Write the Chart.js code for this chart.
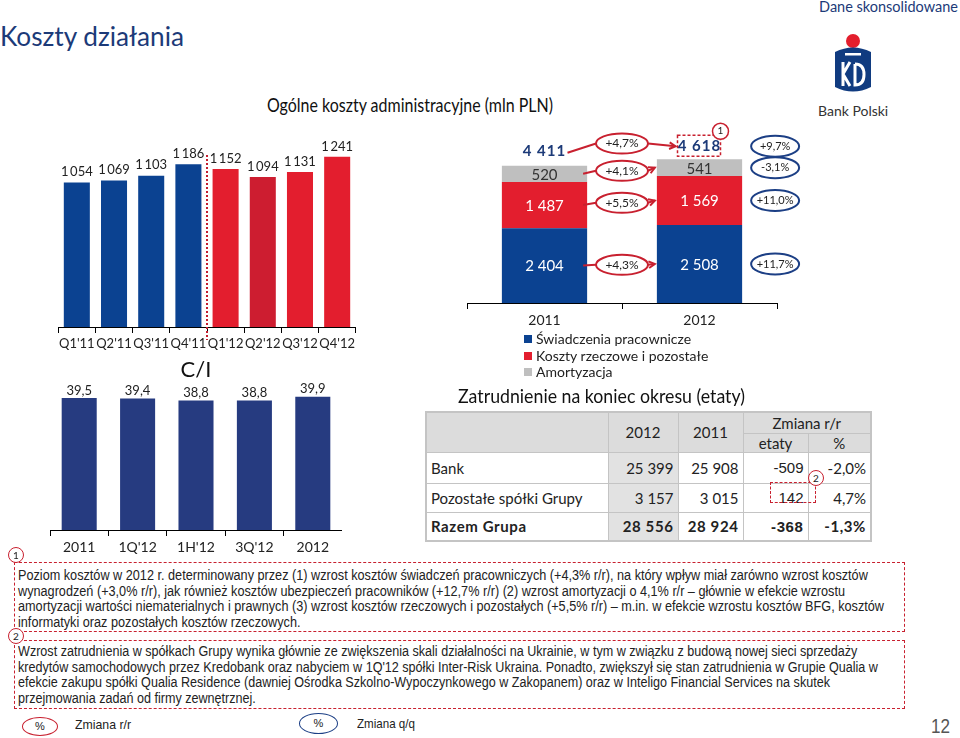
<!DOCTYPE html>
<html lang="pl">
<head>
<meta charset="utf-8">
<script src="https://cdn.jsdelivr.net/npm/chart.js@4.4.0/dist/chart.umd.min.js"></script>
<style>
body { margin:0; width:960px; height:738px; position:relative; background:#fff; overflow:hidden; font-family:Lato, "Noto Sans", sans-serif; color:#222; }
.abs { position:absolute; white-space:nowrap; }
canvas { position:absolute; }
.fit { display:inline-block; transform-origin:left top; white-space:nowrap; }
.legend-item { position:absolute; left:524px; font-size:14px; line-height:16px; }
.legend-item i { display:inline-block; width:8px; height:8px; margin-right:4px; vertical-align:1px; }
table { position:absolute; left:425px; top:411px; width:445px; table-layout:fixed; border-collapse:collapse; font-size:15px; border:2px solid #c4c4c4; }
td { border:1px solid #c4c4c4; padding:0 4px; white-space:nowrap; overflow:hidden; }
.hd { background:#dcdcdc; text-align:center; }
.num { text-align:right; }
.g { background:#e2e2e2; }
.arial { font-family:"Liberation Sans", Arial, sans-serif; }
.tot td { font-weight:700; letter-spacing:0.6px; }
.note { position:absolute; left:14px; width:891px; border:1.5px dashed #c8202f; font-family:"Liberation Sans", Arial, sans-serif; font-size:14px; line-height:15.6px; padding-left:3px; box-sizing:border-box; color:#222; }
.mark { position:absolute; width:14px; height:14px; border:1.5px solid #c8202f; border-radius:50%; background:#fff; font-size:10px; line-height:14px; text-align:center; box-sizing:content-box; }
.oval { position:absolute; border-radius:50%; font-size:11px; text-align:center; font-family:"Liberation Sans", sans-serif; }
.small { font-family:"Liberation Sans", sans-serif; font-size:13px; }
</style>
</head>
<body>

<div class="abs" style="left:0;top:20px;font-size:26px;color:#1c3a78;"><span class="fit" data-w="184">Koszty działania</span></div>
<div class="abs" style="right:2px;top:-2px;font-size:14.5px;color:#1c3a78;">Dane skonsolidowane</div>

<svg class="abs" style="left:830px;top:30px" width="46" height="66" viewBox="0 0 46 66">
  <circle cx="23" cy="11" r="7" fill="#e31e2d"/>
  <path d="M5 22 Q23 13 41 22 L41 57 Q23 66 5 57 Z" fill="#103b80"/>
  <rect x="15" y="23" width="16" height="2.5" fill="#fff"/>
  <path d="M13 32 V56 M13 44 L20 32 M13 44 L20 56 M25 34 V55 Q34 55 34 44.5 Q34 34 25 34" stroke="#fff" stroke-width="3" fill="none"/>
</svg>
<div class="abs" style="left:818px;top:102px;font-size:14px;color:#333;">Bank Polski</div>

<div class="abs" style="left:267px;top:93px;font-size:19px;color:#111;"><span class="fit" data-w="286">Ogólne koszty administracyjne (mln PLN)</span></div>

<canvas id="qChart" width="302" height="262" style="left:56px;top:98px"></canvas>
<canvas id="ciChart" width="292" height="205" style="left:50px;top:355px"></canvas>
<canvas id="costChart" width="400" height="223" style="left:430px;top:110px"></canvas>

<div id="legend"></div>

<div class="abs" style="left:458px;top:383px;font-size:20px;color:#111;"><span class="fit" data-w="287">Zatrudnienie na koniec okresu (etaty)</span></div>
<table id="empTable"></table>
<div class="abs" style="left:770px;top:482px;width:44px;height:19px;border:1.5px dashed #c8202f;"></div>
<div class="mark" style="left:808px;top:470px;">2</div>

<div class="note" style="top:562px;height:70px;padding-top:5px;"><div class="fit" data-w="866">
Poziom kosztów w 2012 r. determinowany przez (1) wzrost kosztów świadczeń pracowniczych (+4,3% r/r), na który wpływ miał zarówno wzrost kosztów<br>
wynagrodzeń (+3,0% r/r), jak również kosztów ubezpieczeń pracowników (+12,7% r/r) (2) wzrost amortyzacji o 4,1% r/r – głównie w efekcie wzrostu<br>
amortyzacji wartości niematerialnych i prawnych (3) wzrost kosztów rzeczowych i pozostałych (+5,5% r/r) – m.in. w efekcie wzrostu kosztów BFG, kosztów<br>
informatyki oraz pozostałych kosztów rzeczowych.
</div></div>
<div class="mark" style="left:8px;top:547px;">1</div>

<div class="note" style="top:640px;height:69px;padding-top:3px;"><div class="fit" data-w="860">
Wzrost zatrudnienia w spółkach Grupy wynika głównie ze zwiększenia skali działalności na Ukrainie, w tym w związku z budową nowej sieci sprzedaży<br>
kredytów samochodowych przez Kredobank oraz nabyciem w 1Q'12 spółki Inter-Risk Ukraina. Ponadto, zwiększył się stan zatrudnienia w Grupie Qualia w<br>
efekcie zakupu spółki Qualia Residence (dawniej Ośrodka Szkolno-Wypoczynkowego w Zakopanem) oraz w Inteligo Financial Services na skutek<br>
przejmowania zadań od firmy zewnętrznej.
</div></div>
<div class="mark" style="left:8px;top:628px;">2</div>

<div class="oval" style="left:22px;top:717px;width:34px;height:17px;line-height:17px;border:1.5px solid #c8202f;">%</div>
<div class="abs small" style="left:75px;top:717px;"><span class="fit" data-w="56">Zmiana r/r</span></div>
<div class="oval" style="left:299px;top:713px;width:37px;height:19px;line-height:19px;border:1.5px solid #1c3f85;">%</div>
<div class="abs small" style="left:357px;top:716px;"><span class="fit" data-w="58">Zmiana q/q</span></div>
<div class="abs" style="left:931px;top:715px;font-family:'Liberation Sans',sans-serif;font-size:20px;color:#555;"><span class="fit" data-w="19">12</span></div>

<script>
// quarterly costs (mln PLN)
const quarters = ["Q1'11", "Q2'11", "Q3'11", "Q4'11", "Q1'12", "Q2'12", "Q3'12", "Q4'12"];
const quarterCosts = [1054, 1069, 1103, 1186, 1152, 1094, 1131, 1241];

// C/I ratio
const ciPeriods = ['2011', "1Q'12", "1H'12", "3Q'12", '2012'];
const ciValues = [39.5, 39.4, 38.8, 38.8, 39.9];

// cost structure, years
const years = ['2011', '2012'];
const costNames = ['Świadczenia pracownicze', 'Koszty rzeczowe i pozostałe', 'Amortyzacja'];
const employeeBenefits = [2404, 2508];
const materialCosts = [1487, 1569];
const amortization = [520, 541];
const totalCosts = [4411, 4618];
// changes, bottom segment first, total last
const yoyChange = ['+4,3%', '+5,5%', '+4,1%', '+4,7%'];
const qoqChange = ['+11,7%', '+11,0%', '-3,1%', '+9,7%'];

// employment table
const empRows = ['Bank', 'Pozostałe spółki Grupy', 'Razem Grupa'];
const emp2012 = ['25 399', '3 157', '28 556'];
const emp2011 = ['25 908', '3 015', '28 924'];
const empChange = ['-509', '142', '-368'];
const empChangePct = ['-2,0%', '4,7%', '-1,3%'];

const BLUE = '#0b4291';
const RED = '#e31e2e';
const DARK_RED = '#cd1d30';
const GREY = '#bfbfbf';
const NAVY = '#263b80';
const OVAL_RED = '#c8202f';
const OVAL_BLUE = '#1c3f85';

Chart.defaults.font.family = 'Lato';
Chart.defaults.color = '#222';

// squeeze text blocks to the width they take in the slide
document.querySelectorAll('.fit').forEach(el => {
    const w = el.getBoundingClientRect().width;
    el.style.transform = `scaleX(${(+el.dataset.w / w).toFixed(4)})`;
});

function spaced(v, sep) {
    return String(v).replace(/\B(?=(\d{3})+(?!\d))/g, sep);
}

function axisX(h, size) {
    return {
        grid: { display: true, drawOnChartArea: false, drawTicks: true, tickLength: 6, offset: true, color: '#000' },
        border: { display: true, color: '#000' },
        ticks: { font: { size: size }, padding: 3, maxRotation: 0, autoSkip: false, color: '#222' },
        afterFit: s => { s.height = h; }
    };
}

const quarterLabels = {
    id: 'quarterLabels',
    afterDatasetsDraw(chart) {
        const { ctx, chartArea } = chart;
        const els = chart.getDatasetMeta(0).data;
        ctx.save();
        ctx.font = '13px Lato';
        ctx.fillStyle = '#222';
        ctx.textAlign = 'center';
        ctx.textBaseline = 'bottom';
        els.forEach((el, i) => ctx.fillText(spaced(quarterCosts[i], '\u2009'), el.x, el.y - 4));
        const x = (els[3].x + els[4].x) / 2;
        ctx.strokeStyle = '#c41e2f';
        ctx.lineWidth = 2;
        ctx.setLineDash([2, 2]);
        ctx.beginPath();
        ctx.moveTo(x, chartArea.top + 57);
        ctx.lineTo(x, chartArea.bottom + 13);
        ctx.stroke();
        ctx.restore();
    }
};

new Chart(document.getElementById('qChart'), {
    type: 'bar',
    data: {
        labels: quarters,
        datasets: [{
            data: quarterCosts,
            backgroundColor: quarters.map((q, i) => i < 4 ? BLUE : (i === 5 ? DARK_RED : RED)),
            barPercentage: 0.7,
            categoryPercentage: 1
        }]
    },
    options: {
        responsive: false,
        animation: false,
        layout: { padding: { left: 1, right: 1 } },
        plugins: { legend: { display: false }, tooltip: { enabled: false } },
        scales: {
            x: axisX(33, 13),
            y: { display: false, min: 0, max: 1670 }
        }
    },
    plugins: [quarterLabels]
});

const ciLabels = {
    id: 'ciLabels',
    afterDatasetsDraw(chart) {
        const { ctx } = chart;
        ctx.save();
        ctx.font = '13px Lato';
        ctx.fillStyle = '#222';
        ctx.textAlign = 'center';
        ctx.textBaseline = 'bottom';
        chart.getDatasetMeta(0).data.forEach((el, i) =>
            ctx.fillText(ciValues[i].toFixed(1).replace('.', ','), el.x, el.y - 1));
        ctx.restore();
    }
};

new Chart(document.getElementById('ciChart'), {
    type: 'bar',
    data: {
        labels: ciPeriods,
        datasets: [{ data: ciValues, backgroundColor: NAVY, barPercentage: 0.6, categoryPercentage: 1 }]
    },
    options: {
        responsive: false,
        animation: false,
        plugins: {
            legend: { display: false },
            tooltip: { enabled: false },
            title: { display: true, text: 'C/I', color: '#111', font: { size: 22, weight: 'normal' }, padding: { top: 2, bottom: 4 } }
        },
        scales: {
            x: axisX(30, 14),
            y: { display: false, min: 0, max: 42.7 }
        }
    },
    plugins: [ciLabels]
});

function drawArrowHead(ctx, x, y, fromX, fromY) {
    const a = Math.atan2(y - fromY, x - fromX);
    ctx.beginPath();
    ctx.moveTo(x - 7 * Math.cos(a - 0.5), y - 7 * Math.sin(a - 0.5));
    ctx.lineTo(x, y);
    ctx.lineTo(x - 7 * Math.cos(a + 0.5), y - 7 * Math.sin(a + 0.5));
    ctx.stroke();
}

const costAnnotations = {
    id: 'costAnnotations',
    afterDatasetsDraw(chart) {
        const { ctx } = chart;
        const metas = [0, 1, 2].map(i => chart.getDatasetMeta(i));
        const mid = el => (el.y + el.base) / 2;
        ctx.save();
        ctx.textAlign = 'center';
        ctx.textBaseline = 'middle';

        // values inside segments
        metas.forEach((m, di) => m.data.forEach((el, j) => {
            ctx.font = '15px Lato';
            ctx.fillStyle = di === 2 ? '#333' : '#fff';
            ctx.fillText(spaced(chart.data.datasets[di].data[j], ' '), el.x, mid(el) + 1);
        }));

        // totals
        const tops = metas[2].data;
        const totalY = tops.map(el => el.y - 13);
        ctx.font = 'bold 15px Lato';
        ctx.fillStyle = '#1c3a78';
        ctx.letterSpacing = '1px';
        tops.forEach((el, j) => ctx.fillText(spaced(totalCosts[j], ' '), el.x, totalY[j] - (j === 0 ? 2 : 0)));
        ctx.letterSpacing = '0px';

        const left = metas[0].data[0];
        const right = metas[0].data[1];
        const leftEdge = left.x + left.width / 2;
        const rightEdge = right.x - right.width / 2;
        const redX = (leftEdge + rightEdge) / 2;
        const blueX = right.x + right.width / 2 + 33;

        // dashed box around 2012 total + note marker
        ctx.strokeStyle = OVAL_RED;
        ctx.lineWidth = 1.5;
        ctx.setLineDash([3, 2]);
        ctx.strokeRect(right.x - 22, totalY[1] - 11, 43, 21);
        ctx.setLineDash([]);
        ctx.beginPath();
        ctx.arc(right.x + 21, totalY[1] - 15, 8, 0, Math.PI * 2);
        ctx.fillStyle = '#fff';
        ctx.fill();
        ctx.stroke();
        ctx.fillStyle = '#222';
        ctx.font = '10px Lato';
        ctx.fillText('1', right.x + 21, totalY[1] - 15);

        for (let r = 0; r < 4; r++) {
            let yA, yB, startX, endX, redY;
            if (r < 3) {
                yA = mid(metas[r].data[0]);
                yB = mid(metas[r].data[1]);
                startX = leftEdge - 4;
                endX = rightEdge - 2;
                redY = (yA + yB) / 2;
            } else {
                yA = totalY[0];
                yB = totalY[1];
                startX = left.x + 23;
                endX = right.x - 24;
                redY = (yA + yB) / 2 - 6;
            }
            ctx.strokeStyle = OVAL_RED;
            ctx.lineWidth = 2;
            ctx.beginPath();
            ctx.moveTo(startX, yA);
            ctx.lineTo(redX - 26, redY);
            ctx.moveTo(redX + 26, redY);
            ctx.lineTo(endX, yB);
            ctx.stroke();
            drawArrowHead(ctx, endX, yB, redX + 26, redY);

            ctx.beginPath();
            ctx.ellipse(redX, redY, 26, 10, 0, 0, Math.PI * 2);
            ctx.fillStyle = '#fff';
            ctx.fill();
            ctx.stroke();
            ctx.fillStyle = '#222';
            ctx.font = '12px Lato';
            ctx.fillText(yoyChange[r], redX, redY);

            ctx.strokeStyle = OVAL_BLUE;
            ctx.beginPath();
            ctx.ellipse(blueX, yB, 24, 10.5, 0, 0, Math.PI * 2);
            ctx.fillStyle = '#fff';
            ctx.fill();
            ctx.stroke();
            ctx.fillStyle = '#222';
            ctx.font = '11px Lato';
            ctx.fillText(qoqChange[r], blueX, yB);
        }
        ctx.restore();
    }
};

new Chart(document.getElementById('costChart'), {
    type: 'bar',
    data: {
        labels: years,
        datasets: [
            { label: costNames[0], data: employeeBenefits, backgroundColor: BLUE },
            { label: costNames[1], data: materialCosts, backgroundColor: RED },
            { label: costNames[2], data: amortization, backgroundColor: GREY }
        ].map(d => Object.assign(d, { barPercentage: 0.55, categoryPercentage: 1 }))
    },
    options: {
        responsive: false,
        animation: false,
        layout: { padding: { left: 37, right: 53, top: 10 } },
        plugins: { legend: { display: false }, tooltip: { enabled: false } },
        scales: {
            x: Object.assign(axisX(30, 14), { stacked: true }),
            y: { display: false, stacked: true, min: 0, max: 5880 }
        }
    },
    plugins: [costAnnotations]
});

// legend
const legendColors = [BLUE, RED, GREY];
document.getElementById('legend').innerHTML = costNames.map((n, i) =>
    `<div class="legend-item" style="top:${331 + i * 16.5}px"><i style="background:${legendColors[i]}"></i>${n}</div>`
).join('');

// employment table
let rows = `<colgroup><col style="width:182px"><col style="width:70px"><col style="width:65px"><col style="width:65px"><col style="width:63px"></colgroup>
<tr style="height:21px"><td class="hd" rowspan="2"></td>
<td class="hd" rowspan="2">2012</td><td class="hd" rowspan="2">2011</td>
<td class="hd" colspan="2">Zmiana r/r</td></tr>
<tr style="height:18px"><td class="hd">etaty</td><td class="hd">%</td></tr>`;
empRows.forEach((name, i) => {
    const h = i === 0 ? 31 : 29;
    rows += `<tr class="${i === 2 ? 'tot' : ''}" style="height:${h}px">
<td>${name}</td><td class="num g">${emp2012[i]}</td><td class="num">${emp2011[i]}</td>
<td class="num arial">${empChange[i]}</td><td class="num">${empChangePct[i]}</td></tr>`;
});
document.getElementById('empTable').innerHTML = rows;
</script>
</body>
</html>
